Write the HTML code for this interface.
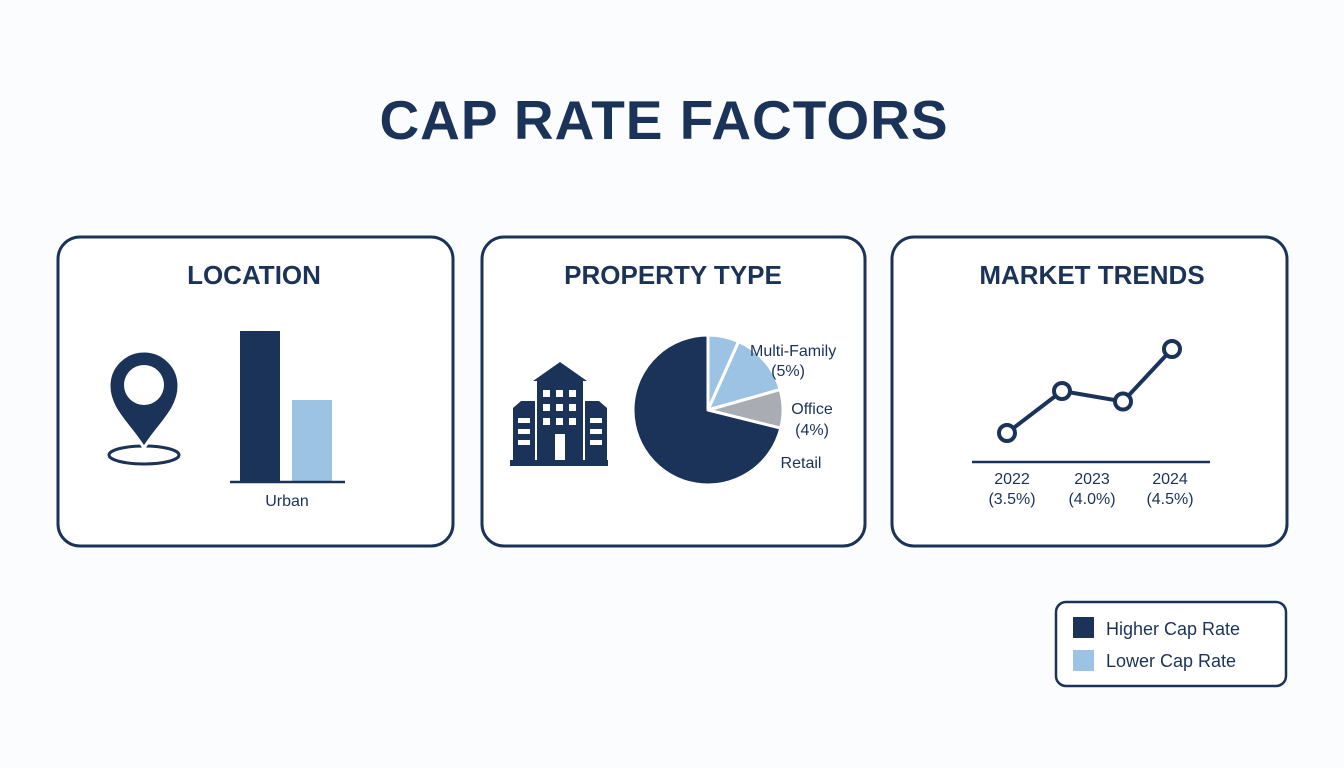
<!DOCTYPE html>
<html><head><meta charset="utf-8">
<style>
html,body{margin:0;padding:0;background:#fbfcfd;}
svg{display:block;font-family:"Liberation Sans",sans-serif;}
</style></head>
<body>
<svg id="s" width="1344" height="768" viewBox="0 0 1344 768">
<rect x="0" y="0" width="1344" height="768" fill="#fbfcfd"/>
<text x="664" y="139" text-anchor="middle" font-size="55" font-weight="bold" letter-spacing="1" fill="#1b3358">CAP RATE FACTORS</text>

<rect x="58" y="237" width="395" height="309" rx="22" fill="#fff" stroke="#1b3358" stroke-width="3"/>
<rect x="482" y="237" width="383" height="309" rx="22" fill="#fff" stroke="#1b3358" stroke-width="3"/>
<rect x="892" y="237" width="395" height="309" rx="22" fill="#fff" stroke="#1b3358" stroke-width="3"/>

<text x="254" y="284" text-anchor="middle" font-size="26" font-weight="bold" fill="#1b3358">LOCATION</text>
<text x="673" y="284" text-anchor="middle" font-size="26" font-weight="bold" fill="#1b3358">PROPERTY TYPE</text>
<text x="1092" y="284" text-anchor="middle" font-size="26" font-weight="bold" fill="#1b3358">MARKET TRENDS</text>

<g>
<ellipse cx="144" cy="455" rx="35" ry="9" fill="none" stroke="#1b3358" stroke-width="3"/>
<path d="M144,448 C130,425 109,410 109,386 A35,35 0 0 1 179,386 C179,410 158,425 144,448 Z" fill="#1b3358" stroke="#fff" stroke-width="3"/>
<circle cx="144" cy="385" r="20" fill="#fff"/>
</g>

<g fill="#1b3358">
<polygon points="533,381 560,362 587,381"/>
<rect x="537" y="381" width="46" height="80"/>
<rect x="513" y="408" width="22" height="53"/><polygon points="513,408 521,401 535,401 535,408"/>
<rect x="585" y="408" width="22" height="53"/><polygon points="585,401 599,401 607,408 585,408"/>
<rect x="510" y="460" width="98" height="6"/>
<g fill="#fff">
<rect x="543" y="390" width="7" height="7"/><rect x="556" y="390" width="7" height="7"/><rect x="569" y="390" width="7" height="7"/>
<rect x="543" y="404" width="7" height="7"/><rect x="556" y="404" width="7" height="7"/><rect x="569" y="404" width="7" height="7"/>
<rect x="543" y="418" width="7" height="7"/><rect x="556" y="418" width="7" height="7"/><rect x="569" y="418" width="7" height="7"/>
<rect x="555" y="434" width="10" height="26"/>
<rect x="518" y="418" width="12" height="5"/><rect x="518" y="429" width="12" height="5"/><rect x="518" y="440" width="12" height="5"/>
<rect x="590" y="418" width="12" height="5"/><rect x="590" y="429" width="12" height="5"/><rect x="590" y="440" width="12" height="5"/>
</g></g>

<g id="bars"></g>
<g id="pie"></g>
<text x="750" y="356" font-size="16" fill="#1b3358">Multi-Family</text>
<text x="788" y="376" text-anchor="middle" font-size="16" fill="#1b3358">(5%)</text>
<text x="812" y="414" text-anchor="middle" font-size="16" fill="#1b3358">Office</text>
<text x="812" y="435" text-anchor="middle" font-size="16" fill="#1b3358">(4%)</text>
<text x="801" y="468" text-anchor="middle" font-size="16" fill="#1b3358">Retail</text>
<g id="line"></g>

<rect x="1056" y="602" width="230" height="84" rx="10" fill="#fff" stroke="#1b3358" stroke-width="2.5"/>
<rect x="1073" y="617" width="21" height="21" fill="#1b3358"/>
<text x="1106" y="635" font-size="18" fill="#1b3358">Higher Cap Rate</text>
<rect x="1073" y="650" width="21" height="21" fill="#9dc3e4"/>
<text x="1106" y="667" font-size="18" fill="#1b3358">Lower Cap Rate</text>
</svg>
<script>
const NS="http://www.w3.org/2000/svg";
const barCategories=["Higher","Lower"];
const barValues=[100,54];
const barColors=["#1b3358","#9dc3e4"];
const pieLabels=["Multi-Family A","Multi-Family B","Office","Retail"];
const pieValues=[6.7,13.9,8.3,71.1];
const pieColors=["#9dc3e4","#9dc3e4","#a9adb3","#1b3358"];
const lineYears=["2022","","2023","2024"];
const lineValues=[3.5,4.1,3.95,4.7];
const tickLabels=["2022","2023","2024"];
const tickSub=["(3.5%)","(4.0%)","(4.5%)"];
function mk(t,a,p){const e=document.createElementNS(NS,t);for(const k in a)e.setAttribute(k,a[k]);p.appendChild(e);return e;}
const bg=document.getElementById("bars");
const barY=v=>481-v*1.5;
barValues.forEach((v,i)=>{const x=240+i*52;
const r=mk("rect",{x:x,y:barY(v),width:40,height:481-barY(v),fill:barColors[i]},bg);

});
const bl=mk("line",{x1:230,y1:482,x2:345,y2:482,stroke:"#1b3358","stroke-width":2.5},bg);


const bt=mk("text",{x:287,y:506,"text-anchor":"middle","font-size":16,fill:"#1b3358"},bg);bt.textContent="Urban";


const pg=document.getElementById("pie");
const cx=708,cy=410,R=75;const tot=pieValues.reduce((a,b)=>a+b,0);let a0=0;
pieValues.forEach((v,i)=>{const a1=a0+v/tot*2*Math.PI;
const p=(a)=>[cx+R*Math.sin(a),cy-R*Math.cos(a)];const s=p(a0),e=p(a1);
const d=`M${cx},${cy} L${s[0]},${s[1]} A${R},${R} 0 ${a1-a0>Math.PI?1:0} 1 ${e[0]},${e[1]} Z`;
const sl=mk("path",{d:d,fill:pieColors[i],stroke:"#fff","stroke-width":3,"stroke-linejoin":"round"},pg);

a0=a1;});
const lg=document.getElementById("line");
const lx=[1007,1062,1123,1172];
const ly=v=>433-(v-3.5)*70;
const ax=mk("line",{x1:972,y1:462,x2:1210,y2:462,stroke:"#1b3358","stroke-width":2.5},lg);


const pl=mk("polyline",{points:lineValues.map((v,i)=>lx[i]+","+ly(v)).join(" "),fill:"none",stroke:"#1b3358","stroke-width":4},lg);


lineValues.forEach((v,i)=>{const c=mk("circle",{cx:lx[i],cy:ly(v),r:8,fill:"#fff",stroke:"#1b3358","stroke-width":4},lg);

});
const tx=[1012,1092,1170];
tickLabels.forEach((t,i)=>{const a=mk("text",{x:tx[i],y:484,"text-anchor":"middle","font-size":16,fill:"#1b3358"},lg);a.textContent=t;


const b=mk("text",{x:tx[i],y:504,"text-anchor":"middle","font-size":16,fill:"#1b3358"},lg);b.textContent=tickSub[i];

});
</script>
</body></html>
